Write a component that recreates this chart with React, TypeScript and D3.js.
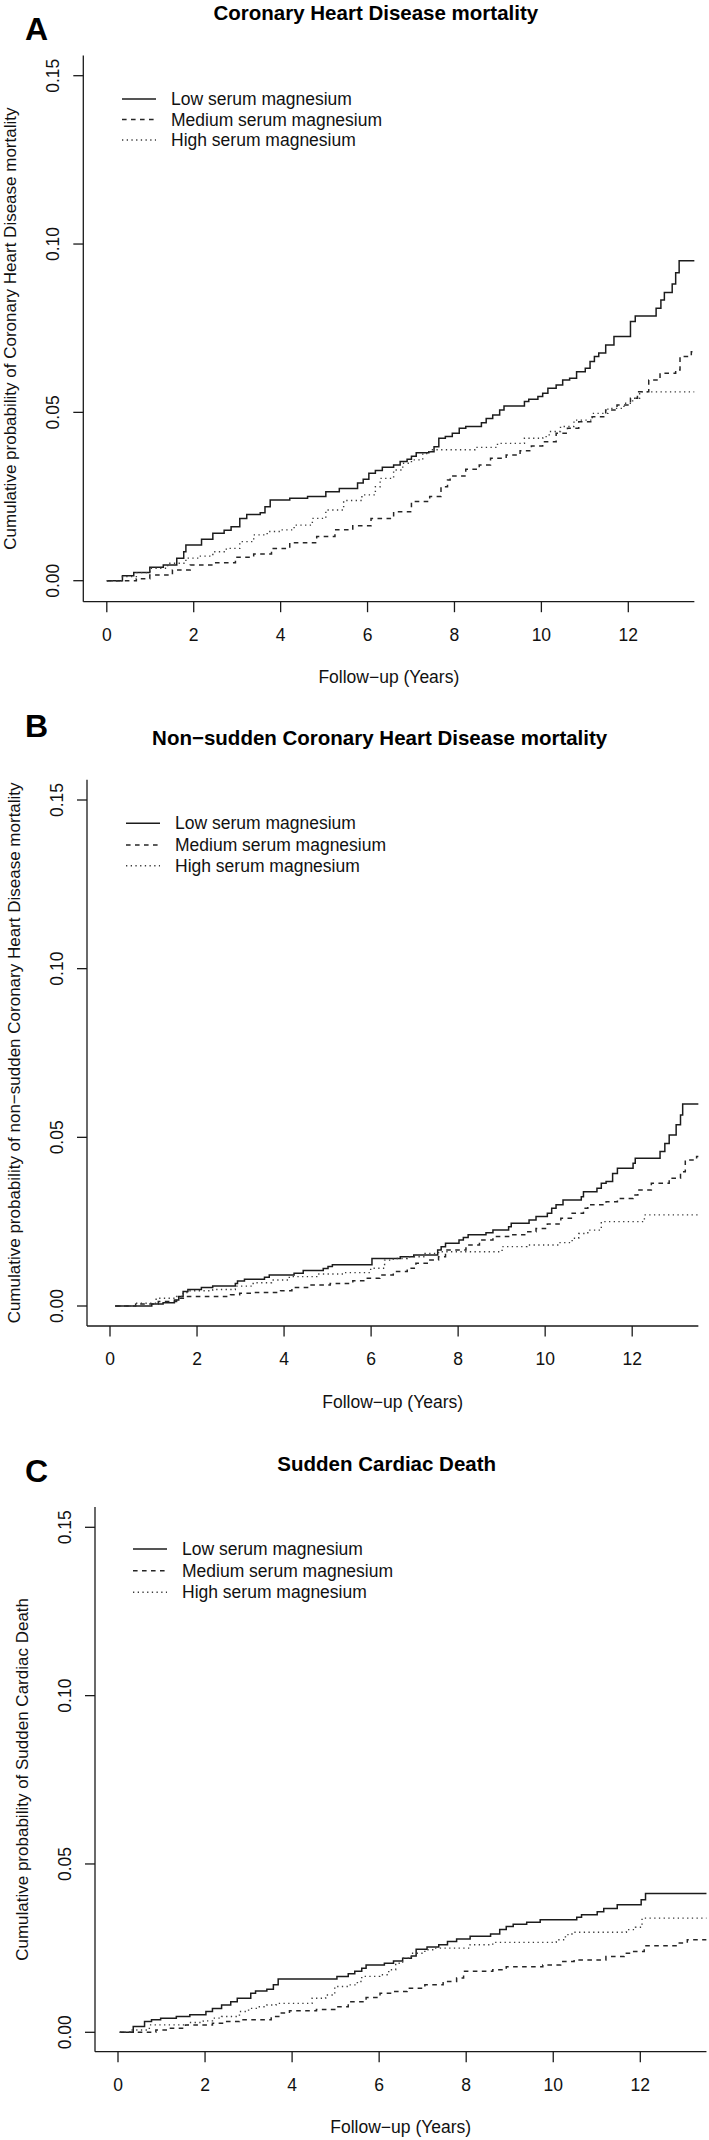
import React from 'react';
import * as d3 from 'd3';

type Pt = [number, number];

// ---------------- data ----------------
const xTicks = [0, 2, 4, 6, 8, 10, 12];
const yTicks = [0, 0.05, 0.1, 0.15];
const yTickLabels = ['0.00', '0.05', '0.10', '0.15'];
const seriesNames = ['Low serum magnesium', 'Medium serum magnesium', 'High serum magnesium'];
const panelLetters = ['A', 'B', 'C'];
const panelTitles = [
  'Coronary Heart Disease mortality',
  'Non\u2212sudden Coronary Heart Disease mortality',
  'Sudden Cardiac Death',
];
const yAxisTitles = [
  'Cumulative probability of Coronary Heart Disease mortality',
  'Cumulative probability of non\u2212sudden Coronary Heart Disease mortality',
  'Cumulative probability of Sudden Cardiac Death',
];
const xAxisTitle = 'Follow\u2212up (Years)';

// Panel A: CHD mortality
const chdLow: Pt[] = [[0,0],[0.36,0.0015],[0.62,0.0024],[0.99,0.004],[1.30,0.0047],[1.61,0.0067],[1.77,0.0086],[1.82,0.0106],[2.18,0.0123],[2.44,0.0141],[2.70,0.015],[2.86,0.016],[3.06,0.0185],[3.22,0.0197],[3.53,0.0202],[3.64,0.022],[3.76,0.024],[4.21,0.0245],[4.62,0.025],[5.04,0.0264],[5.35,0.0274],[5.77,0.029],[5.9,0.0301],[6.03,0.0319],[6.18,0.0327],[6.34,0.0337],[6.6,0.0344],[6.75,0.0354],[6.91,0.0361],[7.01,0.037],[7.12,0.038],[7.41,0.0383],[7.53,0.0398],[7.64,0.0423],[7.79,0.0428],[7.95,0.0438],[8.11,0.0453],[8.26,0.0458],[8.62,0.0469],[8.73,0.0482],[8.88,0.0492],[9.04,0.0507],[9.14,0.0519],[9.61,0.0532],[9.71,0.0539],[9.92,0.0547],[10.03,0.0557],[10.15,0.0572],[10.34,0.0581],[10.49,0.0596],[10.65,0.0601],[10.81,0.0621],[11.01,0.0631],[11.12,0.0651],[11.22,0.0666],[11.32,0.0676],[11.48,0.07],[11.67,0.0725],[12.05,0.077],[12.16,0.0786],[12.64,0.0809],[12.75,0.0834],[12.83,0.0856],[13.01,0.0881],[13.09,0.0915],[13.17,0.095]];
const chdMed: Pt[] = [[0,0],[0.68,0.0006],[0.99,0.0017],[1.51,0.0032],[1.92,0.0047],[2.44,0.0053],[2.96,0.007],[3.38,0.0079],[3.79,0.0096],[4.21,0.0113],[4.83,0.0131],[5.25,0.0151],[5.66,0.0163],[6.08,0.0185],[6.6,0.0205],[7.01,0.0235],[7.43,0.025],[7.69,0.0279],[7.84,0.0299],[7.9,0.0311],[8.26,0.0331],[8.57,0.0344],[8.83,0.0364],[9.19,0.0373],[9.51,0.0386],[9.77,0.04],[10.03,0.0413],[10.34,0.0438],[10.6,0.0453],[10.86,0.0472],[11.17,0.0487],[11.48,0.0507],[11.74,0.0522],[12.05,0.0542],[12.21,0.0561],[12.47,0.0596],[12.73,0.0616],[13.09,0.0626],[13.19,0.0666],[13.45,0.068]];
const chdHigh: Pt[] = [[0,0],[0.36,0.0012],[0.68,0.0024],[0.99,0.0037],[1.4,0.0052],[1.82,0.0067],[2.13,0.0073],[2.44,0.0086],[2.75,0.0096],[3.06,0.0116],[3.38,0.0136],[3.69,0.0146],[4.0,0.0151],[4.31,0.0165],[4.73,0.0185],[5.04,0.021],[5.45,0.0238],[5.87,0.0255],[6.18,0.0279],[6.29,0.0304],[6.6,0.0329],[6.81,0.0349],[7.01,0.0359],[7.27,0.0378],[7.43,0.0389],[8.47,0.0396],[8.99,0.0408],[9.61,0.0423],[10.03,0.0428],[10.18,0.0443],[10.44,0.0458],[10.75,0.0477],[11.17,0.0497],[11.53,0.0512],[11.9,0.0527],[12.1,0.0542],[12.26,0.0561]];

// Panel B: non-sudden CHD mortality
const nsLow: Pt[] = [[0.12,0],[0.96,0.0006],[1.22,0.001],[1.48,0.0018],[1.58,0.0028],[1.68,0.0043],[1.79,0.0049],[2.10,0.0055],[2.36,0.0059],[2.88,0.0067],[2.93,0.0074],[3.09,0.0079],[3.55,0.0085],[3.66,0.0092],[4.23,0.0097],[4.44,0.0105],[4.9,0.0111],[5.01,0.0117],[5.11,0.0122],[6.02,0.0141],[6.67,0.0146],[6.98,0.0151],[7.53,0.0166],[7.61,0.0176],[7.71,0.0186],[8.02,0.0196],[8.12,0.0203],[8.23,0.0211],[8.64,0.0217],[8.8,0.0225],[9.16,0.0235],[9.22,0.0245],[9.63,0.0255],[9.79,0.0265],[10.05,0.0275],[10.15,0.029],[10.25,0.03],[10.41,0.0314],[10.83,0.0324],[10.88,0.0339],[11.19,0.0349],[11.29,0.0364],[11.4,0.0369],[11.55,0.0393],[11.66,0.0408],[12.02,0.0423],[12.07,0.0438],[12.64,0.0458],[12.75,0.0482],[12.85,0.0507],[13.01,0.0537],[13.11,0.0566],[13.16,0.0599]];
const nsMed: Pt[] = [[0.12,0],[0.59,0.0006],[1.11,0.0013],[1.53,0.0023],[1.74,0.0028],[2.77,0.0033],[2.98,0.0038],[3.29,0.004],[3.92,0.0045],[4.18,0.0055],[4.54,0.0062],[5.06,0.0067],[5.58,0.0075],[5.89,0.0082],[6.2,0.0092],[6.51,0.0102],[6.83,0.0112],[7.03,0.0127],[7.35,0.0136],[7.55,0.0146],[7.71,0.0166],[8.18,0.0181],[8.49,0.0196],[8.8,0.0206],[9.22,0.0211],[9.53,0.022],[9.79,0.023],[10.05,0.0243],[10.36,0.026],[10.62,0.0275],[10.88,0.029],[10.98,0.03],[11.4,0.0309],[11.66,0.0319],[12.02,0.0329],[12.13,0.0344],[12.44,0.0364],[12.85,0.0379],[13.11,0.0398],[13.22,0.0433],[13.48,0.0443]];
const nsHigh: Pt[] = [[0.12,0],[0.59,0.0008],[1.06,0.0023],[1.53,0.0028],[1.68,0.004],[1.84,0.0045],[2.36,0.0049],[2.88,0.0059],[3.29,0.0069],[3.71,0.0077],[4.12,0.0087],[4.75,0.0095],[5.37,0.0099],[5.99,0.0112],[6.31,0.0136],[6.51,0.0141],[6.83,0.0146],[7.24,0.0156],[7.55,0.0161],[9.01,0.0176],[9.58,0.0181],[10.31,0.0188],[10.62,0.0201],[10.77,0.0215],[10.98,0.0225],[11.29,0.025],[12.28,0.027]];

// Panel C: sudden cardiac death
const scdLow: Pt[] = [[0.04,0],[0.35,0.0017],[0.61,0.0032],[0.77,0.0037],[0.98,0.0042],[1.34,0.0047],[1.65,0.0052],[2.02,0.0062],[2.17,0.0071],[2.38,0.0081],[2.59,0.0091],[2.74,0.0101],[3.05,0.0116],[3.16,0.0123],[3.42,0.0128],[3.57,0.0141],[3.68,0.0158],[5.03,0.0166],[5.29,0.0174],[5.44,0.0181],[5.6,0.019],[5.7,0.02],[6.12,0.0205],[6.33,0.0212],[6.54,0.022],[6.74,0.0227],[6.85,0.0247],[7.1,0.0253],[7.37,0.026],[7.57,0.027],[7.78,0.0277],[8.09,0.0285],[8.56,0.0292],[8.77,0.0305],[8.92,0.0314],[9.08,0.0321],[9.39,0.0327],[9.7,0.0334],[10.54,0.0342],[10.65,0.0349],[11.01,0.0358],[11.16,0.0368],[11.47,0.0379],[12.02,0.0394],[12.12,0.0412]];
const scdMed: Pt[] = [[0.04,0],[0.87,0.0007],[1.18,0.0012],[1.55,0.0022],[2.17,0.0027],[2.48,0.0032],[2.79,0.0037],[3.52,0.0047],[3.73,0.0057],[3.94,0.0064],[4.56,0.0068],[4.98,0.0076],[5.29,0.0091],[5.7,0.0103],[6.02,0.0116],[6.33,0.0121],[6.64,0.0131],[7.05,0.0141],[7.47,0.0151],[7.78,0.0161],[7.94,0.0181],[8.61,0.0186],[8.92,0.0195],[9.76,0.02],[10.17,0.021],[10.48,0.0215],[11.21,0.0225],[11.63,0.0235],[11.83,0.024],[12.09,0.0257],[12.87,0.0265],[13.08,0.0275]];
const scdHigh: Pt[] = [[0.04,0],[0.3,0.0007],[0.72,0.0022],[1.65,0.0029],[1.96,0.0034],[2.17,0.0042],[2.38,0.0047],[2.79,0.0062],[3.0,0.0071],[3.21,0.0076],[3.42,0.0081],[3.63,0.0086],[4.46,0.0101],[4.77,0.0111],[4.98,0.0136],[5.29,0.0141],[5.5,0.0151],[5.6,0.0166],[6.02,0.0171],[6.22,0.0186],[6.38,0.0205],[6.54,0.022],[6.74,0.0235],[7.05,0.0245],[7.26,0.025],[8.09,0.026],[8.61,0.0267],[10.07,0.0275],[10.28,0.029],[10.43,0.0297],[11.68,0.0305],[11.89,0.0312],[12.04,0.0339]];

const panelSeries: Pt[][][] = [
  [chdLow, chdMed, chdHigh],
  [nsLow, nsMed, nsHigh],
  [scdLow, scdMed, scdHigh],
];

// ---------------- layout ----------------
const W = 709;
const H = 2140;
const FONT = '"Liberation Sans", Arial, Helvetica, sans-serif';

const layout = [
  { x0: 106.8, x12: 628.3, axisX: 83.3, y0: 580.7, y015: 75.7, xAxisY: 601.7, letterY: 40, titleY: 20, titleDx: -13, legend: [99, 119.5, 140], legX: 122, yTitleX: 10 },
  { x0: 110, x12: 632.2, axisX: 87, y0: 1306, y015: 800, xAxisY: 1326, letterY: 737, titleY: 745, titleDx: -13, legend: [823.3, 845, 865.7], legX: 126, yTitleX: 14 },
  { x0: 118, x12: 640.3, axisX: 95, y0: 2032.3, y015: 1527.3, xAxisY: 2051.7, letterY: 1482, titleY: 1471, titleDx: -14, legend: [1549, 1570.7, 1592.3], legX: 133, yTitleX: 22 },
];

const dashes = [null, '4.6 4.4', '1.3 3.4'];
const strokes = ['#1c1c1c', '#262626', '#3a3a3a'];
const widths = [1.5, 1.5, 1.4];

function Panel({ idx }: { idx: number }) {
  const L = layout[idx];
  const x = d3.scaleLinear().domain([0, 12]).range([L.x0, L.x12]);
  const y = d3.scaleLinear().domain([0, 0.15]).range([L.y0, L.y015]);
  const xRightVal = 13.52;
  const right = Math.min(x(xRightVal), W - 1);
  const top = y(0.156);
  const clipId = `clip-${idx}`;
  const line = d3
    .line<Pt>()
    .x((d) => x(d[0]))
    .y((d) => y(d[1]))
    .curve(d3.curveStepAfter);
  const plotCenter = (L.axisX + x(xRightVal)) / 2;
  const ink = '#1a1a1a';

  return (
    <g>
      <defs>
        <clipPath id={clipId}>
          <rect x={L.axisX} y={top} width={right - L.axisX} height={L.xAxisY - top} />
        </clipPath>
      </defs>
      {/* panel letter */}
      <text x={25} y={L.letterY} fontFamily={FONT} fontWeight="bold" fontSize={32} fill="#000">
        {panelLetters[idx]}
      </text>
      {/* title */}
      <text x={plotCenter + L.titleDx} y={L.titleY} textAnchor="middle" fontFamily={FONT} fontWeight="bold" fontSize={20.5} fill="#000">
        {panelTitles[idx]}
      </text>
      {/* axes box (l) */}
      <line x1={L.axisX} x2={L.axisX} y1={top} y2={L.xAxisY} stroke={ink} strokeWidth={1.3} />
      <line x1={L.axisX} x2={right} y1={L.xAxisY} y2={L.xAxisY} stroke={ink} strokeWidth={1.3} />
      {/* y ticks */}
      {yTicks.map((t, i) => (
        <g key={`yt${i}`}>
          <line x1={L.axisX - 10} x2={L.axisX} y1={y(t)} y2={y(t)} stroke={ink} strokeWidth={1.3} />
          <text
            transform={`translate(${L.axisX - 24},${y(t)}) rotate(-90)`}
            textAnchor="middle"
            fontFamily={FONT}
            fontSize={17.5}
            fill="#111"
          >
            {yTickLabels[i]}
          </text>
        </g>
      ))}
      {/* x ticks */}
      {xTicks.map((t) => (
        <g key={`xt${t}`}>
          <line x1={x(t)} x2={x(t)} y1={L.xAxisY} y2={L.xAxisY + 10.5} stroke={ink} strokeWidth={1.3} />
          <text x={x(t)} y={L.xAxisY + 39} textAnchor="middle" fontFamily={FONT} fontSize={17.5} fill="#111">
            {t}
          </text>
        </g>
      ))}
      {/* axis titles */}
      <text x={plotCenter} y={L.xAxisY + 81.5} textAnchor="middle" fontFamily={FONT} fontSize={17.5} fill="#111">
        {xAxisTitle}
      </text>
      <text
        transform={`translate(${L.yTitleX + 6},${(top + L.xAxisY) / 2}) rotate(-90)`}
        textAnchor="middle"
        fontFamily={FONT}
        fontSize={17}
        fill="#111"
      >
        {yAxisTitles[idx]}
      </text>
      {/* curves */}
      <g clipPath={`url(#${clipId})`}>
        {panelSeries[idx].map((s, i) => {
          const ext: Pt[] = [...s, [xRightVal + 1, s[s.length - 1][1]]];
          return (
            <path
              key={`s${i}`}
              d={line(ext) || ''}
              fill="none"
              stroke={strokes[i]}
              strokeWidth={widths[i]}
              strokeDasharray={dashes[i] || undefined}
            />
          );
        })}
      </g>
      {/* legend */}
      {seriesNames.map((name, i) => (
        <g key={`lg${i}`}>
          <line
            x1={L.legX}
            x2={L.legX + 34}
            y1={L.legend[i]}
            y2={L.legend[i]}
            stroke={strokes[i]}
            strokeWidth={widths[i]}
            strokeDasharray={dashes[i] || undefined}
          />
          <text x={L.legX + 49} y={L.legend[i] + 6} fontFamily={FONT} fontSize={17.5} fill="#111">
            {name}
          </text>
        </g>
      ))}
    </g>
  );
}

export default function App() {
  return (
    <svg
      width={W}
      height={H}
      viewBox={`0 0 ${W} ${H}`}
      style={{ position: 'absolute', left: 0, top: 0, display: 'block', background: '#fff' }}
    >
      <rect x={0} y={0} width={W} height={H} fill="#fff" />
      {[0, 1, 2].map((i) => (
        <Panel key={i} idx={i} />
      ))}
    </svg>
  );
}
